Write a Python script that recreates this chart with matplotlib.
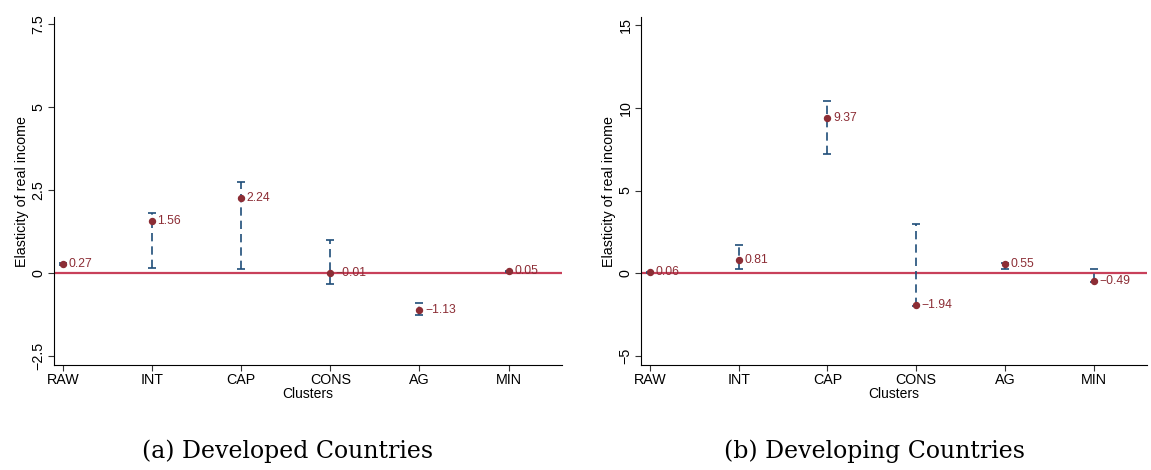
import matplotlib.pyplot as plt
import numpy as np

plt.rcParams['font.family'] = ['Liberation Sans', 'DejaVu Sans']

clusters = ["RAW", "INT", "CAP", "CONS", "AG", "MIN"]

dev_est = [0.27, 1.56, 2.24, -0.01, -1.13, 0.05]
dev_lo = [0.25, 0.14, 0.11, -0.34, -1.28, 0.03]
dev_hi = [0.29, 1.81, 2.74, 1.00, -0.91, 0.07]

dvg_est = [0.06, 0.81, 9.37, -1.94, 0.55, -0.49]
dvg_lo = [0.03, 0.22, 7.22, -1.96, 0.22, -0.52]
dvg_hi = [0.09, 1.69, 10.40, 2.99, 0.62, 0.27]

dev_ticks = [-2.5, 0, 2.5, 5, 7.5]
dvg_ticks = [-5, 0, 5, 10, 15]

point_col = "#8c2d35"
bar_col = "#1f4e79"
zero_col = "#c8405a"

fig = plt.figure(figsize=(11.51, 4.70), dpi=100)
ax1 = fig.add_axes([0.0469, 0.2234, 0.4414, 0.7404])
ax2 = fig.add_axes([0.5569, 0.2234, 0.4396, 0.7404])


def panel(ax, est, lo, hi, ticks, ylim):
    x = np.arange(len(clusters))
    est = np.array(est)
    yerr = [est - np.array(lo), np.array(hi) - est]
    ax.axhline(0, color=zero_col, lw=1.6, zorder=1)
    eb = ax.errorbar(x, est, yerr=yerr, fmt="none", ecolor=bar_col,
                     elinewidth=1.2, capsize=3, capthick=1.2, zorder=2)
    eb[2][0].set_linestyle((0, (5, 3)))
    ax.plot(x, est, "o", color=point_col, ms=4.3, zorder=3)
    for xi, v in zip(x, est):
        ax.annotate(f"{v:.2f}".replace("-", "\u2212"), (xi, v),
                    xytext=(4, 0), textcoords="offset points",
                    va="center", ha="left", color=point_col, fontsize=8.7)
    ax.set_xlim(-0.1, 5.6)
    ax.set_ylim(*ylim)
    ax.set_xticks(x)
    ax.set_xticklabels(clusters, fontsize=10.3)
    ax.set_yticks(ticks)
    ax.set_yticklabels([f"{t:g}".replace("-", "\u2212") for t in ticks],
                       rotation=90, va="center", fontsize=10.3)
    ax.spines["top"].set_visible(False)
    ax.spines["right"].set_visible(False)
    ax.tick_params(direction="out", length=4, width=0.8, color="#333333", pad=2)
    ax.set_xlabel("Clusters", fontsize=10, labelpad=0)
    ax.set_ylabel("Elasticity of real income", fontsize=10.3, labelpad=2)


panel(ax1, dev_est, dev_lo, dev_hi, dev_ticks, (-2.77, 7.7))
panel(ax2, dvg_est, dvg_lo, dvg_hi, dvg_ticks, (-5.56, 15.5))

fig.text(0.250, 0.014, "(a) Developed Countries", ha="center", va="bottom",
         fontsize=17, family="DejaVu Serif")
fig.text(0.760, 0.014, "(b) Developing Countries", ha="center", va="bottom",
         fontsize=17, family="DejaVu Serif")

fig.savefig("out.png", dpi=100)
